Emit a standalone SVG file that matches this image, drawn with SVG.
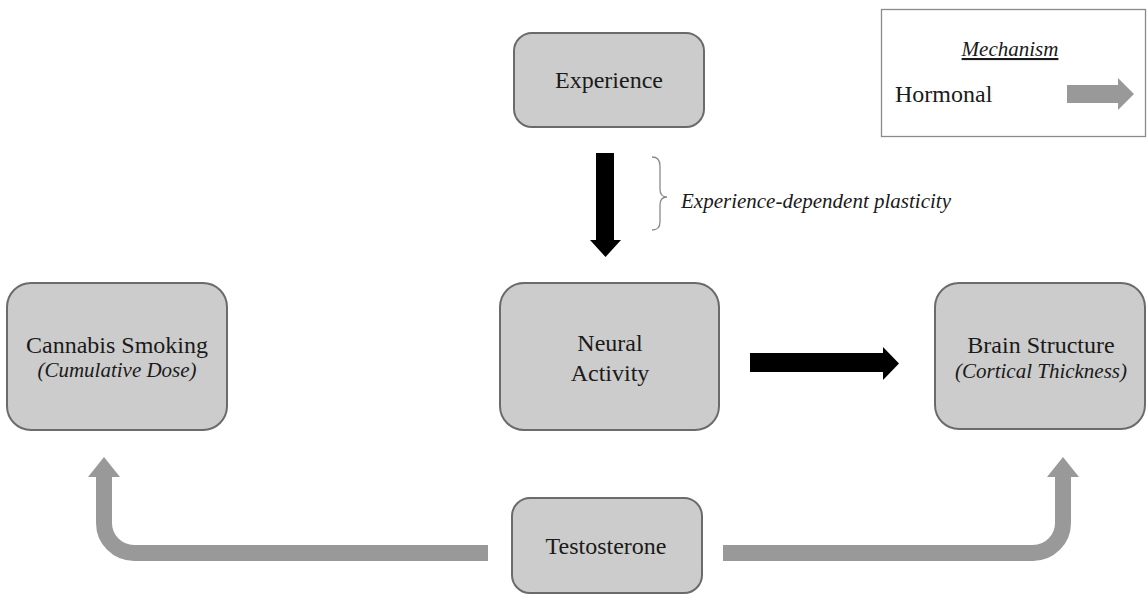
<svg xmlns="http://www.w3.org/2000/svg" width="1148" height="596" viewBox="0 0 1148 596">
  <style>
    .node { fill: #cccccc; stroke: #6b6b6b; stroke-width: 2; }
    .t { font-family: "Liberation Serif", "Times New Roman", serif; font-size: 24px; fill: #1a1a1a; text-anchor: middle; }
    .ti { font-family: "Liberation Serif", "Times New Roman", serif; font-size: 21px; font-style: italic; fill: #1a1a1a; text-anchor: middle; }
    .hormone { fill: none; stroke: #999999; stroke-width: 16; }
    .hormone-head { fill: #999999; }
    .black { fill: #000000; }
  </style>
  <rect width="1148" height="596" fill="#ffffff"/>

  <g id="legend">
    <rect x="881.5" y="9.5" width="264" height="127" fill="#ffffff" stroke="#8a8a8a" stroke-width="1.3"/>
    <text x="1010" y="56" class="ti" font-size="23" text-decoration="underline">Mechanism</text>
    <text x="895" y="102" class="t" style="text-anchor:start">Hormonal</text>
    <polygon class="hormone-head" points="1067,85 1118,85 1118,78 1134,94 1118,110 1118,103 1067,103"/>
  </g>

  <g id="connectors">
    <polygon class="black" points="596,153 614,153 614,240 621,240 605.5,257 590,240 596,240"/>
    <path d="M652,157 Q660,157 660,166 L660,189 Q660,197 667,197 Q660,197 660,205 L660,222 Q660,230 652,230" fill="none" stroke="#8a8a8a" stroke-width="1.3"/>
    <text x="681" y="208" class="ti" style="text-anchor:start">Experience-dependent plasticity</text>
    <polygon class="black" points="750,353 883,353 883,347 899,363.5 883,380 883,372 750,372"/>
    <path class="hormone" d="M488,553 H134 A30,30 0 0 1 104,523 V476"/>
    <polygon class="hormone-head" points="88,477 120,477 104,457"/>
    <path class="hormone" d="M723,553 H1033 A30,30 0 0 0 1063,523 V476"/>
    <polygon class="hormone-head" points="1047,477 1079,477 1063,457"/>
  </g>

  <g id="experience">
    <rect class="node" x="514" y="33" width="190" height="94" rx="18"/>
    <text x="609" y="88" class="t">Experience</text>
  </g>

  <g id="cannabis">
    <rect class="node" x="7" y="283" width="220" height="147" rx="24"/>
    <text x="117" y="353" class="t">Cannabis Smoking</text>
    <text x="117" y="377" class="ti">(Cumulative Dose)</text>
  </g>

  <g id="neural">
    <rect class="node" x="500" y="283" width="219" height="147" rx="24"/>
    <text x="610" y="351" class="t">Neural</text>
    <text x="610" y="381" class="t">Activity</text>
  </g>

  <g id="brain">
    <rect class="node" x="935" y="283" width="210" height="146" rx="24"/>
    <text x="1041" y="353" class="t">Brain Structure</text>
    <text x="1041" y="378" class="ti">(Cortical Thickness)</text>
  </g>

  <g id="testosterone">
    <rect class="node" x="512" y="498" width="190" height="95" rx="18"/>
    <text x="606" y="554" class="t">Testosterone</text>
  </g>
</svg>
